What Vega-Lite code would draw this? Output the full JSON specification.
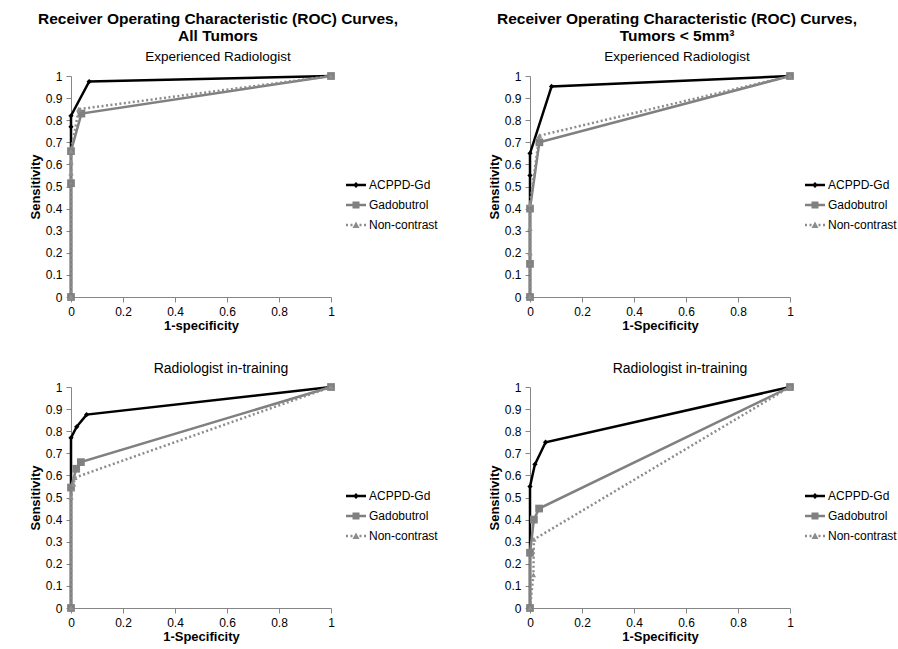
{
  "$schema": "https://vega.github.io/schema/vega-lite/v6.json",
  "background": "white",
  "padding": {"left": 29, "top": 12, "right": 5, "bottom": 5},
  "datasets": {
    "roc": [
      {"panel": "TL", "series": "ACPPD-Gd", "i": 0, "x": 0, "y": 0},
      {"panel": "TL", "series": "ACPPD-Gd", "i": 1, "x": 0, "y": 0.77},
      {"panel": "TL", "series": "ACPPD-Gd", "i": 2, "x": 0, "y": 0.82},
      {"panel": "TL", "series": "ACPPD-Gd", "i": 3, "x": 0.07, "y": 0.975},
      {"panel": "TL", "series": "ACPPD-Gd", "i": 4, "x": 1, "y": 1},
      {"panel": "TL", "series": "Gadobutrol", "i": 0, "x": 0, "y": 0},
      {"panel": "TL", "series": "Gadobutrol", "i": 1, "x": 0, "y": 0.515},
      {"panel": "TL", "series": "Gadobutrol", "i": 2, "x": 0, "y": 0.66},
      {"panel": "TL", "series": "Gadobutrol", "i": 3, "x": 0.04, "y": 0.83},
      {"panel": "TL", "series": "Gadobutrol", "i": 4, "x": 1, "y": 1},
      {"panel": "TL", "series": "Non-contrast", "i": 0, "x": 0, "y": 0},
      {"panel": "TL", "series": "Non-contrast", "i": 1, "x": 0, "y": 0.56},
      {"panel": "TL", "series": "Non-contrast", "i": 2, "x": 0, "y": 0.61},
      {"panel": "TL", "series": "Non-contrast", "i": 3, "x": 0, "y": 0.66},
      {"panel": "TL", "series": "Non-contrast", "i": 4, "x": 0.03, "y": 0.85},
      {"panel": "TL", "series": "Non-contrast", "i": 5, "x": 1, "y": 1},
      {"panel": "TR", "series": "ACPPD-Gd", "i": 0, "x": 0, "y": 0},
      {"panel": "TR", "series": "ACPPD-Gd", "i": 1, "x": 0, "y": 0.55},
      {"panel": "TR", "series": "ACPPD-Gd", "i": 2, "x": 0, "y": 0.65},
      {"panel": "TR", "series": "ACPPD-Gd", "i": 3, "x": 0.083, "y": 0.953},
      {"panel": "TR", "series": "ACPPD-Gd", "i": 4, "x": 1, "y": 1},
      {"panel": "TR", "series": "Gadobutrol", "i": 0, "x": 0, "y": 0},
      {"panel": "TR", "series": "Gadobutrol", "i": 1, "x": 0, "y": 0.15},
      {"panel": "TR", "series": "Gadobutrol", "i": 2, "x": 0, "y": 0.4},
      {"panel": "TR", "series": "Gadobutrol", "i": 3, "x": 0.036, "y": 0.7},
      {"panel": "TR", "series": "Gadobutrol", "i": 4, "x": 1, "y": 1},
      {"panel": "TR", "series": "Non-contrast", "i": 0, "x": 0, "y": 0},
      {"panel": "TR", "series": "Non-contrast", "i": 1, "x": 0, "y": 0.2},
      {"panel": "TR", "series": "Non-contrast", "i": 2, "x": 0, "y": 0.31},
      {"panel": "TR", "series": "Non-contrast", "i": 3, "x": 0, "y": 0.42},
      {"panel": "TR", "series": "Non-contrast", "i": 4, "x": 0.036, "y": 0.73},
      {"panel": "TR", "series": "Non-contrast", "i": 5, "x": 1, "y": 1},
      {"panel": "BL", "series": "ACPPD-Gd", "i": 0, "x": 0, "y": 0},
      {"panel": "BL", "series": "ACPPD-Gd", "i": 1, "x": 0, "y": 0.77},
      {"panel": "BL", "series": "ACPPD-Gd", "i": 2, "x": 0.022, "y": 0.82},
      {"panel": "BL", "series": "ACPPD-Gd", "i": 3, "x": 0.06, "y": 0.875},
      {"panel": "BL", "series": "ACPPD-Gd", "i": 4, "x": 1, "y": 1},
      {"panel": "BL", "series": "Gadobutrol", "i": 0, "x": 0, "y": 0},
      {"panel": "BL", "series": "Gadobutrol", "i": 1, "x": 0, "y": 0.545},
      {"panel": "BL", "series": "Gadobutrol", "i": 2, "x": 0.02, "y": 0.63},
      {"panel": "BL", "series": "Gadobutrol", "i": 3, "x": 0.038, "y": 0.66},
      {"panel": "BL", "series": "Gadobutrol", "i": 4, "x": 1, "y": 1},
      {"panel": "BL", "series": "Non-contrast", "i": 0, "x": 0, "y": 0},
      {"panel": "BL", "series": "Non-contrast", "i": 1, "x": 0, "y": 0.5},
      {"panel": "BL", "series": "Non-contrast", "i": 2, "x": 0.01, "y": 0.56},
      {"panel": "BL", "series": "Non-contrast", "i": 3, "x": 0.015, "y": 0.59},
      {"panel": "BL", "series": "Non-contrast", "i": 4, "x": 1, "y": 1},
      {"panel": "BR", "series": "ACPPD-Gd", "i": 0, "x": 0, "y": 0},
      {"panel": "BR", "series": "ACPPD-Gd", "i": 1, "x": 0, "y": 0.55},
      {"panel": "BR", "series": "ACPPD-Gd", "i": 2, "x": 0.019, "y": 0.65},
      {"panel": "BR", "series": "ACPPD-Gd", "i": 3, "x": 0.06, "y": 0.75},
      {"panel": "BR", "series": "ACPPD-Gd", "i": 4, "x": 1, "y": 1},
      {"panel": "BR", "series": "Gadobutrol", "i": 0, "x": 0, "y": 0},
      {"panel": "BR", "series": "Gadobutrol", "i": 1, "x": 0, "y": 0.25},
      {"panel": "BR", "series": "Gadobutrol", "i": 2, "x": 0.015, "y": 0.4},
      {"panel": "BR", "series": "Gadobutrol", "i": 3, "x": 0.035, "y": 0.45},
      {"panel": "BR", "series": "Gadobutrol", "i": 4, "x": 1, "y": 1},
      {"panel": "BR", "series": "Non-contrast", "i": 0, "x": 0, "y": 0},
      {"panel": "BR", "series": "Non-contrast", "i": 1, "x": 0.013, "y": 0.15},
      {"panel": "BR", "series": "Non-contrast", "i": 2, "x": 0.015, "y": 0.31},
      {"panel": "BR", "series": "Non-contrast", "i": 3, "x": 1, "y": 1}
    ]
  },
  "data": {"name": "roc"},
  "spacing": 30,
  "resolve": {"scale": {"color": "independent", "shape": "independent"}},
  "vconcat": [
    {
      "bounds": "flush",
      "spacing": 199,
      "resolve": {"scale": {"color": "independent", "shape": "independent"}},
      "hconcat": [
        {
          "width": 260, "height": 221,
          "title": {"text": ["Receiver Operating Characteristic (ROC) Curves,", "All Tumors"], "subtitle": "Experienced Radiologist"},
          "transform": [{"filter": "datum.panel == 'TL'"}],
          "encoding": {
            "x": {"field": "x", "type": "quantitative", "scale": {"domain": [0, 1]}, "axis": {"title": "1-specificity", "values": [0, 0.2, 0.4, 0.6, 0.8, 1], "format": "~g"}},
            "y": {"field": "y", "type": "quantitative", "scale": {"domain": [0, 1]}, "axis": {"title": "Sensitivity", "values": [0, 0.1, 0.2, 0.3, 0.4, 0.5, 0.6, 0.7, 0.8, 0.9, 1], "format": "~g"}}
          },
          "layer": [
            {"transform": [{"filter": "datum.series == 'ACPPD-Gd'"}], "mark": {"type": "line", "color": "#000000", "strokeWidth": 2.5}, "encoding": {"order": {"field": "i"}}},
            {"transform": [{"filter": "datum.series == 'ACPPD-Gd'"}], "mark": {"type": "point", "shape": "diamond", "filled": true, "color": "#000000", "opacity": 1, "size": 28}},
            {"transform": [{"filter": "datum.series == 'Gadobutrol'"}], "mark": {"type": "line", "color": "#808080", "strokeWidth": 2.5}, "encoding": {"order": {"field": "i"}}},
            {"transform": [{"filter": "datum.series == 'Gadobutrol'"}], "mark": {"type": "point", "shape": "square", "filled": true, "color": "#808080", "opacity": 1, "size": 60}},
            {"transform": [{"filter": "datum.series == 'Non-contrast'"}], "mark": {"type": "line", "color": "#8c8c8c", "strokeWidth": 2.5, "strokeDash": [2, 2.5]}, "encoding": {"order": {"field": "i"}}},
            {"transform": [{"filter": "datum.series == 'Non-contrast'"}], "mark": {"type": "point", "shape": "triangle-up", "filled": true, "color": "#909090", "opacity": 1, "size": 30}},
            {"transform": [{"filter": "datum.i < 0"}], "mark": {"type": "point", "filled": true, "opacity": 1, "size": 400}, "encoding": {"color": {"field": "series", "type": "nominal", "scale": {"domain": ["ACPPD-Gd", "Gadobutrol", "Non-contrast"], "range": ["#000000", "#808080", "#8c8c8c"]}, "legend": {"title": null, "orient": "none", "legendX": 274, "legendY": 98}}, "shape": {"field": "series", "type": "nominal", "scale": {"domain": ["ACPPD-Gd", "Gadobutrol", "Non-contrast"], "range": ["M-1,-0.12H1V0.12H-1Z M0,-0.3L0.3,0L0,0.3L-0.3,0Z", "M-1,-0.12H1V0.12H-1Z M-0.35,-0.35H0.35V0.35H-0.35Z", "M-1,-0.12H-0.8V0.12H-1Z M-0.55,-0.12H-0.35V0.12H-0.55Z M0.35,-0.12H0.55V0.12H0.35Z M0.8,-0.12H1V0.12H0.8Z M0,-0.35L0.35,0.3H-0.35Z"]}, "legend": {"title": null, "orient": "none", "legendX": 274, "legendY": 98}}}}
          ]
        },
        {
          "width": 260, "height": 221,
          "title": {"text": ["Receiver Operating Characteristic (ROC) Curves,", "Tumors < 5mm³"], "subtitle": "Experienced Radiologist"},
          "transform": [{"filter": "datum.panel == 'TR'"}],
          "encoding": {
            "x": {"field": "x", "type": "quantitative", "scale": {"domain": [0, 1]}, "axis": {"title": "1-Specificity", "values": [0, 0.2, 0.4, 0.6, 0.8, 1], "format": "~g"}},
            "y": {"field": "y", "type": "quantitative", "scale": {"domain": [0, 1]}, "axis": {"title": "Sensitivity", "values": [0, 0.1, 0.2, 0.3, 0.4, 0.5, 0.6, 0.7, 0.8, 0.9, 1], "format": "~g"}}
          },
          "layer": [
            {"transform": [{"filter": "datum.series == 'ACPPD-Gd'"}], "mark": {"type": "line", "color": "#000000", "strokeWidth": 2.5}, "encoding": {"order": {"field": "i"}}},
            {"transform": [{"filter": "datum.series == 'ACPPD-Gd'"}], "mark": {"type": "point", "shape": "diamond", "filled": true, "color": "#000000", "opacity": 1, "size": 28}},
            {"transform": [{"filter": "datum.series == 'Gadobutrol'"}], "mark": {"type": "line", "color": "#808080", "strokeWidth": 2.5}, "encoding": {"order": {"field": "i"}}},
            {"transform": [{"filter": "datum.series == 'Gadobutrol'"}], "mark": {"type": "point", "shape": "square", "filled": true, "color": "#808080", "opacity": 1, "size": 60}},
            {"transform": [{"filter": "datum.series == 'Non-contrast'"}], "mark": {"type": "line", "color": "#8c8c8c", "strokeWidth": 2.5, "strokeDash": [2, 2.5]}, "encoding": {"order": {"field": "i"}}},
            {"transform": [{"filter": "datum.series == 'Non-contrast'"}], "mark": {"type": "point", "shape": "triangle-up", "filled": true, "color": "#909090", "opacity": 1, "size": 30}},
            {"transform": [{"filter": "datum.i < 0"}], "mark": {"type": "point", "filled": true, "opacity": 1, "size": 400}, "encoding": {"color": {"field": "series", "type": "nominal", "scale": {"domain": ["ACPPD-Gd", "Gadobutrol", "Non-contrast"], "range": ["#000000", "#808080", "#8c8c8c"]}, "legend": {"title": null, "orient": "none", "legendX": 274, "legendY": 98}}, "shape": {"field": "series", "type": "nominal", "scale": {"domain": ["ACPPD-Gd", "Gadobutrol", "Non-contrast"], "range": ["M-1,-0.12H1V0.12H-1Z M0,-0.3L0.3,0L0,0.3L-0.3,0Z", "M-1,-0.12H1V0.12H-1Z M-0.35,-0.35H0.35V0.35H-0.35Z", "M-1,-0.12H-0.8V0.12H-1Z M-0.55,-0.12H-0.35V0.12H-0.55Z M0.35,-0.12H0.55V0.12H0.35Z M0.8,-0.12H1V0.12H0.8Z M0,-0.35L0.35,0.3H-0.35Z"]}, "legend": {"title": null, "orient": "none", "legendX": 274, "legendY": 98}}}}
          ]
        }
      ]
    },
    {
      "bounds": "flush",
      "spacing": 199,
      "resolve": {"scale": {"color": "independent", "shape": "independent"}},
      "hconcat": [
        {
          "width": 260, "height": 221,
          "title": {"text": "Radiologist in-training", "fontSize": 14, "fontWeight": "normal", "offset": 5, "dx": 20},
          "transform": [{"filter": "datum.panel == 'BL'"}],
          "encoding": {
            "x": {"field": "x", "type": "quantitative", "scale": {"domain": [0, 1]}, "axis": {"title": "1-Specificity", "values": [0, 0.2, 0.4, 0.6, 0.8, 1], "format": "~g"}},
            "y": {"field": "y", "type": "quantitative", "scale": {"domain": [0, 1]}, "axis": {"title": "Sensitivity", "values": [0, 0.1, 0.2, 0.3, 0.4, 0.5, 0.6, 0.7, 0.8, 0.9, 1], "format": "~g"}}
          },
          "layer": [
            {"transform": [{"filter": "datum.series == 'ACPPD-Gd'"}], "mark": {"type": "line", "color": "#000000", "strokeWidth": 2.5}, "encoding": {"order": {"field": "i"}}},
            {"transform": [{"filter": "datum.series == 'ACPPD-Gd'"}], "mark": {"type": "point", "shape": "diamond", "filled": true, "color": "#000000", "opacity": 1, "size": 28}},
            {"transform": [{"filter": "datum.series == 'Gadobutrol'"}], "mark": {"type": "line", "color": "#808080", "strokeWidth": 2.5}, "encoding": {"order": {"field": "i"}}},
            {"transform": [{"filter": "datum.series == 'Gadobutrol'"}], "mark": {"type": "point", "shape": "square", "filled": true, "color": "#808080", "opacity": 1, "size": 60}},
            {"transform": [{"filter": "datum.series == 'Non-contrast'"}], "mark": {"type": "line", "color": "#8c8c8c", "strokeWidth": 2.5, "strokeDash": [2, 2.5]}, "encoding": {"order": {"field": "i"}}},
            {"transform": [{"filter": "datum.series == 'Non-contrast'"}], "mark": {"type": "point", "shape": "triangle-up", "filled": true, "color": "#909090", "opacity": 1, "size": 30}},
            {"transform": [{"filter": "datum.i < 0"}], "mark": {"type": "point", "filled": true, "opacity": 1, "size": 400}, "encoding": {"color": {"field": "series", "type": "nominal", "scale": {"domain": ["ACPPD-Gd", "Gadobutrol", "Non-contrast"], "range": ["#000000", "#808080", "#8c8c8c"]}, "legend": {"title": null, "orient": "none", "legendX": 274, "legendY": 98}}, "shape": {"field": "series", "type": "nominal", "scale": {"domain": ["ACPPD-Gd", "Gadobutrol", "Non-contrast"], "range": ["M-1,-0.12H1V0.12H-1Z M0,-0.3L0.3,0L0,0.3L-0.3,0Z", "M-1,-0.12H1V0.12H-1Z M-0.35,-0.35H0.35V0.35H-0.35Z", "M-1,-0.12H-0.8V0.12H-1Z M-0.55,-0.12H-0.35V0.12H-0.55Z M0.35,-0.12H0.55V0.12H0.35Z M0.8,-0.12H1V0.12H0.8Z M0,-0.35L0.35,0.3H-0.35Z"]}, "legend": {"title": null, "orient": "none", "legendX": 274, "legendY": 98}}}}
          ]
        },
        {
          "width": 260, "height": 221,
          "title": {"text": "Radiologist in-training", "fontSize": 14, "fontWeight": "normal", "offset": 5, "dx": 20},
          "transform": [{"filter": "datum.panel == 'BR'"}],
          "encoding": {
            "x": {"field": "x", "type": "quantitative", "scale": {"domain": [0, 1]}, "axis": {"title": "1-Specificity", "values": [0, 0.2, 0.4, 0.6, 0.8, 1], "format": "~g"}},
            "y": {"field": "y", "type": "quantitative", "scale": {"domain": [0, 1]}, "axis": {"title": "Sensitivity", "values": [0, 0.1, 0.2, 0.3, 0.4, 0.5, 0.6, 0.7, 0.8, 0.9, 1], "format": "~g"}}
          },
          "layer": [
            {"transform": [{"filter": "datum.series == 'ACPPD-Gd'"}], "mark": {"type": "line", "color": "#000000", "strokeWidth": 2.5}, "encoding": {"order": {"field": "i"}}},
            {"transform": [{"filter": "datum.series == 'ACPPD-Gd'"}], "mark": {"type": "point", "shape": "diamond", "filled": true, "color": "#000000", "opacity": 1, "size": 28}},
            {"transform": [{"filter": "datum.series == 'Gadobutrol'"}], "mark": {"type": "line", "color": "#808080", "strokeWidth": 2.5}, "encoding": {"order": {"field": "i"}}},
            {"transform": [{"filter": "datum.series == 'Gadobutrol'"}], "mark": {"type": "point", "shape": "square", "filled": true, "color": "#808080", "opacity": 1, "size": 60}},
            {"transform": [{"filter": "datum.series == 'Non-contrast'"}], "mark": {"type": "line", "color": "#8c8c8c", "strokeWidth": 2.5, "strokeDash": [2, 2.5]}, "encoding": {"order": {"field": "i"}}},
            {"transform": [{"filter": "datum.series == 'Non-contrast'"}], "mark": {"type": "point", "shape": "triangle-up", "filled": true, "color": "#909090", "opacity": 1, "size": 30}},
            {"transform": [{"filter": "datum.i < 0"}], "mark": {"type": "point", "filled": true, "opacity": 1, "size": 400}, "encoding": {"color": {"field": "series", "type": "nominal", "scale": {"domain": ["ACPPD-Gd", "Gadobutrol", "Non-contrast"], "range": ["#000000", "#808080", "#8c8c8c"]}, "legend": {"title": null, "orient": "none", "legendX": 274, "legendY": 98}}, "shape": {"field": "series", "type": "nominal", "scale": {"domain": ["ACPPD-Gd", "Gadobutrol", "Non-contrast"], "range": ["M-1,-0.12H1V0.12H-1Z M0,-0.3L0.3,0L0,0.3L-0.3,0Z", "M-1,-0.12H1V0.12H-1Z M-0.35,-0.35H0.35V0.35H-0.35Z", "M-1,-0.12H-0.8V0.12H-1Z M-0.55,-0.12H-0.35V0.12H-0.55Z M0.35,-0.12H0.55V0.12H0.35Z M0.8,-0.12H1V0.12H0.8Z M0,-0.35L0.35,0.3H-0.35Z"]}, "legend": {"title": null, "orient": "none", "legendX": 274, "legendY": 98}}}}
          ]
        }
      ]
    }
  ],
  "config": {
    "font": "Liberation Sans",
    "view": {"stroke": null},
    "axis": {"grid": false, "labelOverlap": false, "domainColor": "#868686", "tickColor": "#868686", "tickSize": 5, "labelPadding": 4, "labelFont": "Liberation Sans", "labelFontSize": 12, "labelColor": "#000000", "titleFont": "Liberation Sans", "titleFontSize": 13, "titleFontWeight": "bold", "titleColor": "#000000"},
    "axisX": {"titlePadding": 2, "labelFlush": false},
    "axisY": {"titlePadding": 3},
    "legend": {"labelFont": "Liberation Sans", "labelFontSize": 12, "labelColor": "#000000", "symbolSize": 400, "rowPadding": 3, "labelOffset": 2},
    "title": {"font": "Liberation Sans", "fontSize": 15.5, "fontWeight": "bold", "color": "#000000", "anchor": "middle", "dx": 17, "offset": 7, "lineHeight": 17, "subtitleFont": "Liberation Sans", "subtitleFontSize": 13.5, "subtitleColor": "#000000", "subtitlePadding": 5}
  }
}
